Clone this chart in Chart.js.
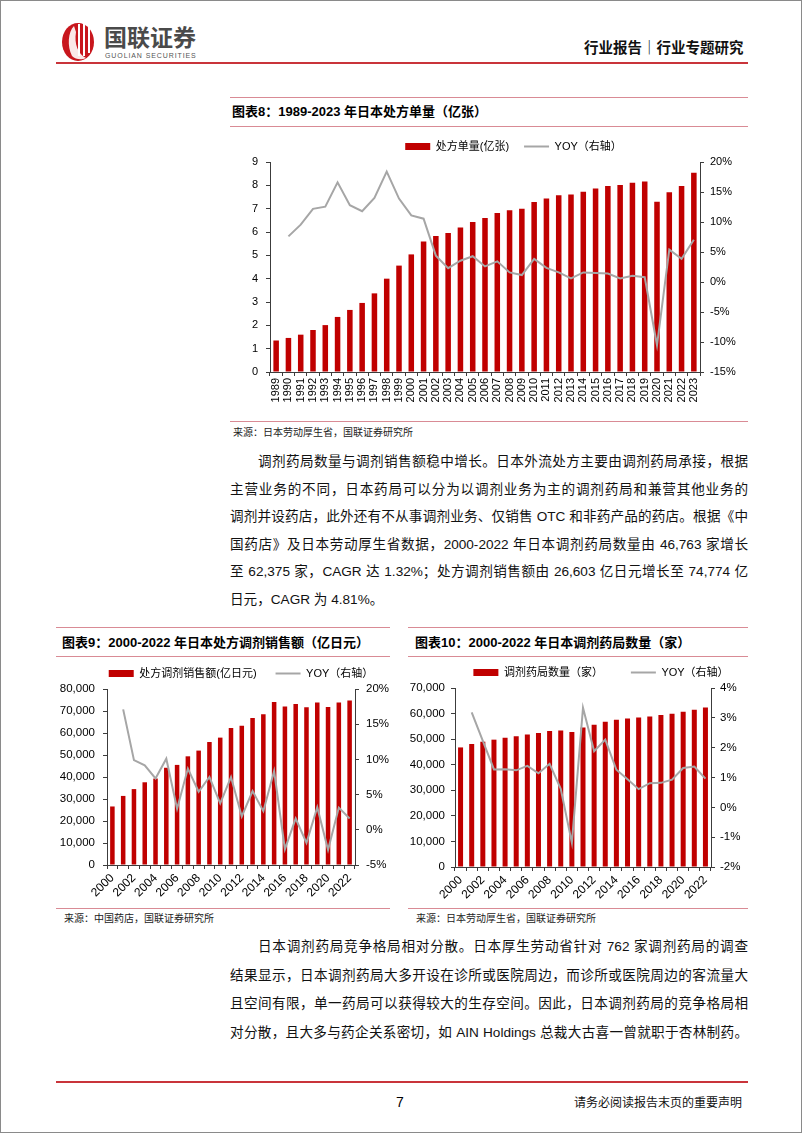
<!DOCTYPE html>
<html><head><meta charset="utf-8">
<script src="https://cdn.jsdelivr.net/npm/chart.js@4.4.1/dist/chart.umd.min.js"></script>
<style>
html,body{margin:0;padding:0;background:#fff;}
#page{position:relative;width:802px;height:1133px;overflow:hidden;background:#fff;font-family:'Liberation Sans','Noto Sans CJK SC',sans-serif;color:#000;}
.frame{position:absolute;left:0;top:0;width:802px;height:1133px;box-sizing:border-box;border:1px solid #8a8a8a;pointer-events:none;}
.hl{position:absolute;height:0;border-top:1px solid #d98b95;}
.t{position:absolute;white-space:nowrap;line-height:1;}
.ttl{position:absolute;white-space:nowrap;font-weight:bold;font-size:13px;line-height:14px;}
.src{position:absolute;white-space:nowrap;font-size:10px;line-height:10px;color:#222;}
.pl{position:absolute;left:230px;width:518px;font-size:13.6px;line-height:16px;height:16px;text-align:justify;text-align-last:justify;white-space:nowrap;color:#111;}
canvas{position:absolute;}
</style></head>
<body>
<div id="page">
  <svg style="position:absolute;left:60px;top:20px" width="38" height="42" viewBox="0 0 38 42">
    <ellipse cx="18" cy="22" rx="16" ry="19" fill="#c8161d"/>
    <path d="M14 6 C8 12 7 26 12 36 C16 40 22 40 26 38 C18 34 14 24 16 12 Z" fill="#fff" opacity="0.9"/>
    <rect x="18" y="4" width="2" height="32" fill="#fff"/>
    <rect x="23" y="3" width="2" height="33" fill="#fff"/>
    <rect x="28" y="5" width="2" height="28" fill="#fff"/>
  </svg>
  <div class="t" style="left:104px;top:25px;font-size:23px;font-weight:bold;color:#4a4a4a;font-family:'Noto Sans CJK SC';">国联证券</div>
  <div class="t" style="left:105px;top:52px;font-size:7px;color:#555;letter-spacing:0.9px;">GUOLIAN SECURITIES</div>
  <div class="t" style="left:584px;top:40px;font-size:14.5px;font-weight:bold;color:#111;font-family:'Noto Sans CJK SC';">行业报告｜行业专题研究</div>
  <div style="position:absolute;left:56px;top:62px;width:692px;height:2px;background:#c9343a;"></div>

  <div class="hl" style="left:230px;top:97px;width:518px;"></div>
  <div class="ttl" style="left:232px;top:105px;">图表8：1989-2023 年日本处方单量（亿张）</div>
  <div class="hl" style="left:230px;top:126px;width:518px;"></div>
  <div class="hl" style="left:230px;top:421px;width:518px;"></div>
  <div class="src" style="left:233px;top:428px;">来源：日本劳动厚生省，国联证券研究所</div>

  <div class="pl" style="top:454px;left:258px;width:490px;">调剂药局数量与调剂销售额稳中增长。日本外流处方主要由调剂药局承接，根据</div>
  <div class="pl" style="top:481.5px;">主营业务的不同，日本药局可以分为以调剂业务为主的调剂药局和兼营其他业务的</div>
  <div class="pl" style="top:509px;">调剂并设药店，此外还有不从事调剂业务、仅销售 OTC 和非药产品的药店。根据《中</div>
  <div class="pl" style="top:536.5px;">国药店》及日本劳动厚生省数据，2000-2022 年日本调剂药局数量由 46,763 家增长</div>
  <div class="pl" style="top:564px;">至 62,375 家，CAGR 达 1.32%；处方调剂销售额由 26,603 亿日元增长至 74,774 亿</div>
  <div class="pl" style="top:591.5px;text-align:left;text-align-last:left;">日元，CAGR 为 4.81%。</div>

  <div class="hl" style="left:56px;top:627px;width:334px;"></div>
  <div class="hl" style="left:408px;top:627px;width:340px;"></div>
  <div class="ttl" style="left:62px;top:636px;">图表9：2000-2022 年日本处方调剂销售额（亿日元）</div>
  <div class="ttl" style="left:415px;top:636px;">图表10：2000-2022 年日本调剂药局数量（家）</div>
  <div class="hl" style="left:56px;top:656px;width:334px;"></div>
  <div class="hl" style="left:408px;top:656px;width:340px;"></div>
  <div class="hl" style="left:56px;top:908px;width:334px;"></div>
  <div class="hl" style="left:408px;top:908px;width:340px;"></div>
  <div class="src" style="left:64px;top:914px;">来源：中国药店，国联证券研究所</div>
  <div class="src" style="left:416px;top:914px;">来源：日本劳动厚生省，国联证券研究所</div>

  <div class="pl" style="top:939px;left:258px;width:490px;">日本调剂药局竞争格局相对分散。日本厚生劳动省针对 762 家调剂药局的调查</div>
  <div class="pl" style="top:967.7px;">结果显示，日本调剂药局大多开设在诊所或医院周边，而诊所或医院周边的客流量大</div>
  <div class="pl" style="top:996.4px;">且空间有限，单一药局可以获得较大的生存空间。因此，日本调剂药局的竞争格局相</div>
  <div class="pl" style="top:1025px;">对分散，且大多与药企关系密切，如 AIN Holdings 总裁大古喜一曾就职于杏林制药。</div>

  <div style="position:absolute;left:56px;top:1081px;width:692px;height:2px;background:#c9343a;"></div>
  <div class="t" style="left:396px;top:1095px;font-size:14px;">7</div>
  <div class="t" style="left:574px;top:1096px;font-size:12px;font-family:'Noto Sans CJK SC';color:#111;">请务必阅读报告末页的重要声明</div>

  <canvas id="c8" width="567" height="290" style="left:230px;top:126px;"></canvas>
  <canvas id="c9" width="402" height="256" style="left:40px;top:649px;"></canvas>
  <canvas id="c10" width="382" height="266" style="left:410px;top:639px;"></canvas>
  <div class="frame"></div>
</div>
<script>
// ---- Chart 8 data ----
const years8 = ['1989','1990','1991','1992','1993','1994','1995','1996','1997','1998','1999','2000','2001','2002','2003','2004','2005','2006','2007','2008','2009','2010','2011','2012','2013','2014','2015','2016','2017','2018','2019','2020','2021','2022','2023'];
const rx8 = [1.35,1.46,1.6,1.8,2.01,2.36,2.66,2.96,3.37,4.0,4.56,5.04,5.59,5.83,5.96,6.19,6.43,6.6,6.81,6.93,7.0,7.29,7.44,7.57,7.61,7.73,7.86,7.97,8.01,8.11,8.16,7.3,7.7,7.97,8.54];
const yoy8 = [null,7.6,9.55,12.2,12.55,16.6,12.8,11.8,14.0,18.4,13.9,11.1,10.55,4.4,2.3,3.55,4.3,2.6,3.45,1.6,1.15,3.85,2.35,1.6,0.6,1.6,1.5,1.4,0.6,1.05,0.8,-10.55,5.4,3.85,7.05];
const legend8 = ['处方单量(亿张)','YOY（右轴）'];

// ---- Chart 9 data ----
const years9 = ['2000','2001','2002','2003','2004','2005','2006','2007','2008','2009','2010','2011','2012','2013','2014','2015','2016','2017','2018','2019','2020','2021','2022'];
const sales9 = [26603,31400,34500,37600,39300,44200,45500,49400,52000,55900,57900,62300,63300,66800,68500,74100,72000,73200,71700,73900,71800,73900,74774];
const yoy9 = [null,17.1,9.9,9.15,7.3,10.1,3.0,8.7,5.4,7.5,3.75,7.5,1.9,5.5,2.65,8.35,-2.75,1.6,-1.85,3.2,-2.85,3.15,1.6];
const legend9 = ['处方调剂销售额(亿日元)','YOY（右轴）'];

// ---- Chart 10 data ----
const years10 = years9;
const stores10 = [46763,48100,49000,49800,50500,51100,51800,52400,53200,53400,52800,54600,55600,56800,57600,58100,58500,58900,59400,59900,60700,61500,62375];
const yoy10 = [null,3.18,2.23,1.27,1.28,1.24,1.39,1.14,1.46,0.62,-1.19,3.34,1.88,2.27,1.26,0.94,0.61,0.81,0.82,0.93,1.32,1.37,0.96];
const legend10 = ['调剂药局数量（家）','YOY（右轴）'];

Chart.defaults.font.family = "'Liberation Sans','Noto Sans CJK SC',sans-serif";
Chart.defaults.color = '#000';
const AX = '#3c3c3c';
const RED = '#c00000';
const GREY = '#a6a6a6';

function build(id, o) {
  const axisBase = {
    grid: { drawOnChartArea: false, drawTicks: true, tickLength: 4, color: AX, tickColor: AX },
    border: { display: true, color: AX, width: 1 }
  };
  new Chart(document.getElementById(id), {
    data: {
      labels: o.labels,
      datasets: [
        { type: 'bar', label: o.legend[0], data: o.bars, backgroundColor: RED, borderWidth: 0,
          barPercentage: o.barPct, categoryPercentage: 1, yAxisID: 'y', pointStyle: 'rect', order: 2 },
        { type: 'line', label: o.legend[1], data: o.line, borderColor: GREY, backgroundColor: GREY,
          borderWidth: 2, pointRadius: 0, tension: 0, yAxisID: 'y1', pointStyle: 'line', spanGaps: false, order: 1 }
      ]
    },
    options: {
      responsive: false, animation: false, devicePixelRatio: 1,
      layout: { padding: 0 },
      plugins: {
        tooltip: { enabled: false },
        legend: { display: true, position: 'top', align: 'center',
          labels: { usePointStyle: true, pointStyleWidth: 25, boxHeight: 7, padding: o.legPad,
                    font: { size: 11 }, color: '#000',
                    sort: (a, b) => a.datasetIndex - b.datasetIndex } }
      },
      scales: {
        x: Object.assign({}, axisBase, {
          ticks: { autoSkip: false, minRotation: o.rot, maxRotation: o.rot, padding: o.xPad,
                   font: { size: o.xFont }, color: '#000',
                   callback: function(v, i) { return (i % o.every === 0) ? o.labels[i] : ''; } },
          afterFit: s => { s.height = o.xH; }
        }),
        y: Object.assign({}, axisBase, {
          position: 'left', min: o.yMin, max: o.yMax,
          ticks: { stepSize: o.yStep, padding: o.yPad, font: { size: o.yFont }, color: '#000',
                   callback: o.yFmt },
          afterFit: s => { s.width = o.yW; }
        }),
        y1: Object.assign({}, axisBase, {
          position: 'right', min: o.rMin, max: o.rMax,
          ticks: { stepSize: o.rStep, padding: o.rPad, font: { size: o.yFont }, color: '#000',
                   callback: v => v + '%' },
          afterFit: s => { s.width = o.rW; }
        })
      }
    }
  });
}

const comma = v => v.toLocaleString('en-US');

build('c8', { labels: years8, bars: rx8, line: yoy8, legend: legend8, barPct: 0.45, legPad: 15,
  rot: 90, xPad: 2, xFont: 11, every: 1, xH: 44,
  yMin: 0, yMax: 9, yStep: 1, yPad: 8, yFont: 11, yFmt: v => v, yW: 40,
  rMin: -15, rMax: 20, rStep: 5, rPad: 6, rW: 97 });

build('c9', { labels: years9, bars: sales9, line: yoy9, legend: legend9, barPct: 0.42, legPad: 19,
  rot: 45, xPad: 2, xFont: 12, every: 2, xH: 40,
  yMin: 0, yMax: 80000, yStep: 10000, yPad: 8, yFont: 11.5, yFmt: comma, yW: 67,
  rMin: -5, rMax: 20, rStep: 5, rPad: 7, rW: 87 });

build('c10', { labels: years10, bars: stores10, line: yoy10, legend: legend10, barPct: 0.45, legPad: 28,
  rot: 45, xPad: 2, xFont: 12, every: 2, xH: 38,
  yMin: 0, yMax: 70000, yStep: 10000, yPad: 6, yFont: 11.5, yFmt: comma, yW: 45,
  rMin: -2, rMax: 4, rStep: 1, rPad: 5, rW: 81 });
</script>
</body></html>
